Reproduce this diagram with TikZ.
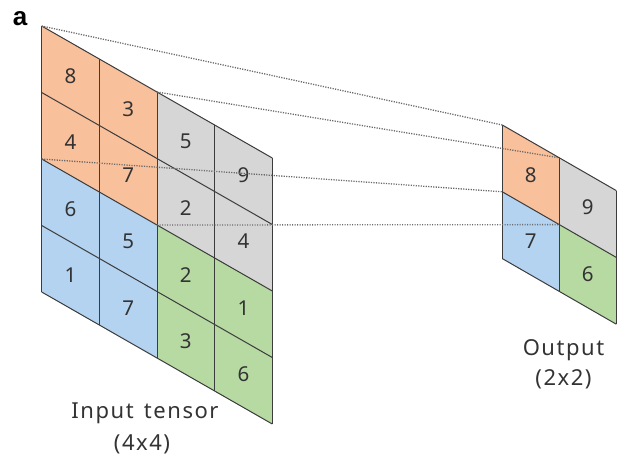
\documentclass[tikz,border=0pt]{standalone}
\usepackage{fontspec}
\setmainfont{Noto Sans}
\newfontfamily\lblfont[LetterSpace=7,WordSpace=1.4]{Noto Sans}
\newfontfamily\boldlbl{Liberation Sans}
\definecolor{cOrange}{HTML}{F9C09C}
\definecolor{cGray}{HTML}{D6D6D6}
\definecolor{cBlue}{HTML}{B4D3F0}
\definecolor{cGreen}{HTML}{B6DAA2}
\definecolor{cLine}{HTML}{3C3C3C}
\definecolor{cText}{HTML}{333333}
\definecolor{cDot}{HTML}{6A6A6A}
\tikzset{
  gridline/.style={draw=cLine, line width=1pt},
  dotline/.style={draw=cDot, line width=1.3pt, dash pattern=on 1.2pt off 1.3pt},
  digit/.style={text=cText, font=\fontsize{20.5}{24}\selectfont, inner sep=0pt},
  lbl/.style={text=cText, font=\lblfont\fontsize{22}{26}\selectfont, inner sep=0pt, anchor=base},
}
\begin{document}
\begin{tikzpicture}[x=1pt,y=-1pt]
\useasboundingbox (0,0) rectangle (617,456);
\def\cw{57.65}\def\sk{33}\def\rh{66.5}
\def\ocw{57}\def\osk{32.8}\def\orh{66.8}
% corner coordinates
\foreach \i in {0,...,4}{\foreach \j in {0,...,4}{
  \coordinate (I-\i-\j) at ({41.7+\cw*\i},{26+\sk*\i+\rh*\j});}}
\foreach \i in {0,...,2}{\foreach \j in {0,...,2}{
  \coordinate (O-\i-\j) at ({502.3+\ocw*\i},{125+\osk*\i+\orh*\j});}}
% input fills
\fill[cOrange] (I-0-0) -- (I-2-0) -- (I-2-2) -- (I-0-2) -- cycle;
\fill[cGray]   (I-2-0) -- (I-4-0) -- (I-4-2) -- (I-2-2) -- cycle;
\fill[cBlue]   (I-0-2) -- (I-2-2) -- (I-2-4) -- (I-0-4) -- cycle;
\fill[cGreen]  (I-2-2) -- (I-4-2) -- (I-4-4) -- (I-2-4) -- cycle;
% output fills
\fill[cOrange] (O-0-0) -- (O-1-0) -- (O-1-1) -- (O-0-1) -- cycle;
\fill[cGray]   (O-1-0) -- (O-2-0) -- (O-2-1) -- (O-1-1) -- cycle;
\fill[cBlue]   (O-0-1) -- (O-1-1) -- (O-1-2) -- (O-0-2) -- cycle;
\fill[cGreen]  (O-1-1) -- (O-2-1) -- (O-2-2) -- (O-1-2) -- cycle;
% grid lines
\foreach \k in {0,...,4}{
  \draw[gridline] (I-\k-0) -- (I-\k-4);
  \draw[gridline] (I-0-\k) -- (I-4-\k);}
\foreach \k in {0,...,2}{
  \draw[gridline] (O-\k-0) -- (O-\k-2);
  \draw[gridline] (O-0-\k) -- (O-2-\k);}
% input numbers
\foreach \v [count=\c from 0] in {8,3,5,9,4,7,2,4,6,5,2,1,1,7,3,6}{
  \pgfmathtruncatemacro{\ci}{mod(\c,4)}
  \pgfmathtruncatemacro{\cj}{\c/4}
  \node[digit] (n-\ci-\cj) at ({41.7+\cw*(\ci+0.5)},{26+\sk*(\ci+0.5)+\rh*(\cj+0.5)}) {\v};}
% output numbers
\foreach \v [count=\c from 0] in {8,9,7,6}{
  \pgfmathtruncatemacro{\ci}{mod(\c,2)}
  \pgfmathtruncatemacro{\cj}{\c/2}
  \node[digit] (m-\ci-\cj) at ({502.3+\ocw*(\ci+0.5)},{125+\osk*(\ci+0.5)+\orh*(\cj+0.5)}) {\v};}
% dotted projection lines
\draw[dotline] (I-0-0) -- (O-0-0);
\draw[dotline] (I-2-0) -- (O-1-0);
\draw[dotline] (I-0-2) -- (O-0-1);
\draw[dotline] (I-2-2) -- (O-1-1);
% labels
\node[lbl] (in1) at (145,418.3) {Input tensor};
\node[lbl] (in2) at (142,450.5) {(4x4)};
\node[lbl] (out1) at (563.5,355) {Output};
\node[lbl] (out2) at (563.5,385) {(2x2)};
\node[font=\boldlbl\bfseries\fontsize{26}{30}\selectfont, inner sep=0pt, anchor=base] (tag) at (20,25.5) {a};
\end{tikzpicture}
\end{document}
